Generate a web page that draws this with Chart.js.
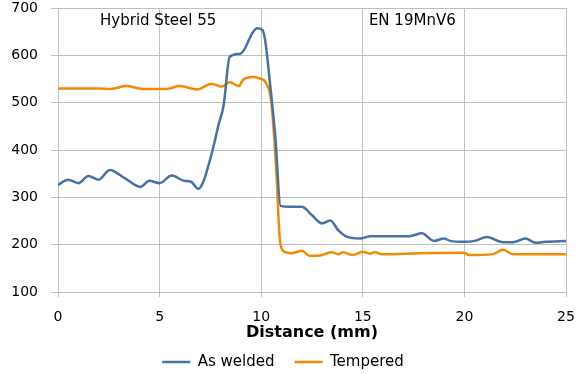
<!DOCTYPE html>
<html>
<head>
<meta charset="utf-8">
<title>Hardness profile</title>
<script src="https://cdn.jsdelivr.net/npm/chart.js@4.4.1/dist/chart.umd.min.js"></script>
<style>
  html, body { margin: 0; padding: 0; background: #fff; }
  #wrap { width: 576px; height: 374px; }
</style>
</head>
<body>
<div id="wrap"><canvas id="hardnessChart"></canvas></div>
<script>
// Perfil de dureza a través de la unión soldada
const weldedDist = [0, 0.5, 1.0, 1.5, 2.0, 2.55, 3.3, 4.05, 4.5, 5.0, 5.6, 6.2, 6.55, 6.9, 7.15, 7.65, 7.9, 8.15, 8.45, 8.95, 9.15, 9.55, 9.8, 10.05, 10.2, 10.45, 10.7, 10.95, 11.4, 12.0, 12.5, 13.0, 13.4, 13.8, 14.2, 14.85, 15.4, 16.3, 17.3, 17.9, 18.5, 19.0, 19.3, 20.0, 20.5, 21.1, 21.9, 22.4, 23.0, 23.5, 24.0, 25.0];
const weldedHv   = [326, 337, 330, 345, 337, 358, 340, 322, 335, 330, 346, 335, 333, 318, 333, 407, 453, 494, 597, 603, 611, 646, 657, 654, 630, 534, 425, 282, 280, 280, 262, 245, 251, 230, 217, 213, 218, 218, 218, 224, 208, 213, 208, 206, 208, 216, 205, 205, 213, 204, 206, 208];

const temperedDist = [0, 1.0, 2.0, 2.6, 3.35, 4.2, 5.35, 6.0, 6.85, 7.55, 8.05, 8.45, 8.9, 9.1, 9.6, 10.0, 10.2, 10.5, 10.75, 10.9, 11.05, 11.5, 12.0, 12.4, 12.9, 13.45, 13.8, 14.0, 14.5, 15.0, 15.35, 15.6, 15.9, 17.8, 19.95, 20.25, 21.4, 21.9, 22.4, 25.0];
const temperedHv   = [530, 530, 530, 529, 535, 529, 529, 535, 528, 540, 534, 543, 535, 548, 554, 550, 544, 500, 350, 220, 188, 182, 187, 176, 177, 184, 180, 184, 178, 185, 181, 184, 180, 182, 183, 178, 180, 189, 180, 180];

const seriesNames = ['As welded', 'Tempered'];
const xTicks = [0, 5, 10, 15, 20, 25];
const yTicks = [100, 200, 300, 400, 500, 600, 700];

// Rótulos de zona dentro del gráfico
const zoneLabels = [
  { text: 'Hybrid Steel 55', x: 2.07, y: 672 },
  { text: 'EN 19MnV6', x: 15.3, y: 672 }
];

const toPoints = (xs, ys) => xs.map((x, i) => ({ x: x, y: ys[i] }));

const zoneLabelPlugin = {
  id: 'zoneLabels',
  afterDatasetsDraw(chart) {
    const { ctx, scales: { x, y } } = chart;
    ctx.save();
    ctx.font = '15px "DejaVu Sans"';
    ctx.fillStyle = '#000';
    ctx.textBaseline = 'middle';
    ctx.textAlign = 'left';
    zoneLabels.forEach(l => {
      ctx.fillText(l.text, x.getPixelForValue(l.x), y.getPixelForValue(l.y));
    });
    ctx.restore();
  }
};

// sin margen extra por las etiquetas de los extremos
const noLabelPadding = s => {
  s.paddingTop = 0;
  s.paddingBottom = 0;
  s.paddingLeft = 0;
  s.paddingRight = 0;
};

const gridColor = '#bfbfbf';

const ctx = document.getElementById('hardnessChart').getContext('2d');
const hardnessChart = new Chart(ctx, {
  type: 'line',
  data: {
    datasets: [
      {
        label: seriesNames[0],
        data: toPoints(weldedDist, weldedHv),
        borderColor: '#4672a8',
        backgroundColor: '#4672a8',
        borderWidth: 2.5,
        pointRadius: 0,
        cubicInterpolationMode: 'monotone'
      },
      {
        label: seriesNames[1],
        data: toPoints(temperedDist, temperedHv),
        borderColor: '#f38b00',
        backgroundColor: '#f38b00',
        borderWidth: 2.5,
        pointRadius: 0,
        cubicInterpolationMode: 'monotone'
      }
    ]
  },
  options: {
    responsive: true,
    maintainAspectRatio: false,
    animation: false,
    layout: { padding: { top: 8, right: 10, left: 0, bottom: -5.5 } },
    scales: {
      x: {
        type: 'linear',
        min: 0,
        max: 25,
        afterBuildTicks: s => { s.ticks = xTicks.map(v => ({ value: v })); },
        afterFit: s => { s.height = 42.5; noLabelPadding(s); },
        grid: { color: gridColor, lineWidth: 1, tickLength: 5 },
        border: { color: gridColor },
        ticks: {
          color: '#000',
          padding: 12,
          maxRotation: 0,
          font: { family: 'DejaVu Sans', size: 14 }
        },
        title: {
          display: true,
          text: 'Distance (mm)',
          color: '#000',
          padding: { top: 0, bottom: -8 },
          font: { family: 'DejaVu Sans', size: 16, weight: 'bold' }
        }
      },
      y: {
        min: 100,
        max: 700,
        afterBuildTicks: s => { s.ticks = yTicks.map(v => ({ value: v })); },
        afterFit: s => { s.width = 58; noLabelPadding(s); },
        grid: { color: gridColor, lineWidth: 1, tickLength: 7 },
        border: { color: gridColor },
        ticks: {
          color: '#000',
          padding: 13,
          font: { family: 'DejaVu Sans', size: 14 }
        }
      }
    },
    plugins: {
      tooltip: { enabled: false },
      legend: {
        position: 'bottom',
        labels: {
          color: '#000',
          boxWidth: 28,
          boxHeight: 2.5,
          padding: 20,
          font: { family: 'DejaVu Sans', size: 15 },
          generateLabels: chart =>
            Chart.defaults.plugins.legend.labels.generateLabels(chart)
              .map(item => ({ ...item, fillStyle: item.strokeStyle, lineWidth: 0 }))
        }
      }
    }
  },
  plugins: [zoneLabelPlugin]
});
</script>
</body>
</html>
